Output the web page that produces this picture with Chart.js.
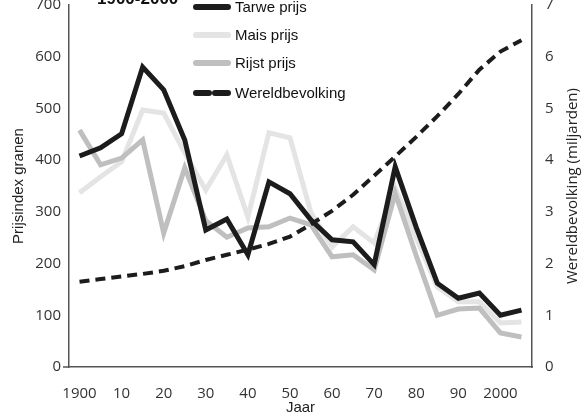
<!DOCTYPE html>
<html>
<head>
<meta charset="utf-8">
<script src="https://cdn.jsdelivr.net/npm/chart.js@4.4.1/dist/chart.umd.min.js"></script>
<style>
html,body{margin:0;padding:0;background:#fff;}
#wrap{width:582px;height:416px;position:relative;}
</style>
</head>
<body>
<div id="wrap"><canvas id="c" width="582" height="416"></canvas></div>
<script>
const YEARS = [1900,1905,1910,1915,1920,1925,1930,1935,1940,1945,1950,1955,1960,1965,1970,1975,1980,1985,1990,1995,2000,2005];
const TARWE = [408,424,451,580,536,439,265,286,217,358,335,284,246,242,198,387,270,162,133,143,100,110];
const MAIS  = [337,368,397,497,491,414,342,410,290,453,443,298,232,271,240,346,250,155,126,126,85,87];
const RIJST = [458,391,404,439,259,385,283,251,269,271,288,275,213,217,188,336,215,100,112,114,66,58];
const BEVOLKING = [1.65,1.70,1.75,1.80,1.86,1.95,2.07,2.17,2.27,2.38,2.52,2.76,3.02,3.33,3.70,4.07,4.45,4.85,5.28,5.75,6.10,6.32];
const XTICKS = [1900,1910,1920,1930,1940,1950,1960,1970,1980,1990,2000];
const XTICK_LABELS = ["1900","10","20","30","40","50","60","70","80","90","2000"];
const LEFT_TICKS = [0,100,200,300,400,500,600,700];
const RIGHT_TICKS = [0,1,2,3,4,5,6,7];
const LEGEND_LABELS = ["Tarwe prijs","Mais prijs","Rijst prijs","Wereldbevolking"];
const RIGHT_TITLE = "Wereldbevolking (miljarden)";

const pts = arr => YEARS.map((y,i)=>({x:y,y:arr[i]}));
const noPad = s => { s.paddingTop = 0; s.paddingBottom = 0; s.paddingLeft = 0; s.paddingRight = 0; };

const legendPlugin = {
  id:'customLegend',
  afterDraw(chart){
    const ctx = chart.ctx;
    const ca = chart.chartArea;
    ctx.save();
    // small stub where the x axis meets the left axis
    ctx.strokeStyle = '#555';
    ctx.lineWidth = 1.5;
    ctx.beginPath();
    ctx.moveTo(ca.left - 6, ca.bottom);
    ctx.lineTo(ca.left, ca.bottom);
    ctx.stroke();
    // partially cut title
    ctx.fillStyle = '#111';
    ctx.font = 'bold 17px "Liberation Sans", Arial, sans-serif';
    ctx.textBaseline = 'alphabetic';
    ctx.textAlign = 'left';
    ctx.fillText('1900-2000', 97, 4);
    const ys = [7,35,63,93];
    [0,1,2,3].forEach((di,k)=>{
      const ds = chart.data.datasets[di];
      const y = ys[k];
      ctx.beginPath();
      ctx.strokeStyle = ds.borderColor;
      ctx.lineWidth = 6;
      ctx.lineCap = 'round';
      ctx.setLineDash(ds.borderDash && ds.borderDash.length ? [13,6] : []);
      ctx.moveTo(196, y);
      ctx.lineTo(228, y);
      ctx.stroke();
      ctx.setLineDash([]);
      ctx.fillStyle = '#111';
      ctx.font = '15px "Liberation Sans", Arial, sans-serif';
      ctx.textBaseline = 'middle';
      ctx.fillText(ds.label, 235, y+1);
    });
    // right axis title, reading bottom-to-top
    ctx.translate(573, (ca.top + ca.bottom)/2);
    ctx.rotate(-Math.PI/2);
    ctx.textAlign = 'center';
    ctx.textBaseline = 'middle';
    ctx.fillStyle = '#222';
    ctx.font = '15px "Open Sans", sans-serif';
    ctx.fillText(RIGHT_TITLE, 0, 0);
    ctx.restore();
  }
};

new Chart(document.getElementById('c'), {
  type:'line',
  data:{
    datasets:[
      {label:LEGEND_LABELS[0], data:pts(TARWE), borderColor:'#1c1c1c', borderWidth:5, yAxisID:'y', order:1, borderJoinStyle:'miter'},
      {label:LEGEND_LABELS[1], data:pts(MAIS), borderColor:'#e4e4e4', borderWidth:5, yAxisID:'y', order:3},
      {label:LEGEND_LABELS[2], data:pts(RIJST), borderColor:'#bfbfbf', borderWidth:5, yAxisID:'y', order:2},
      {label:LEGEND_LABELS[3], data:pts(BEVOLKING), borderColor:'#1c1c1c', borderWidth:4, borderDash:[10,6], yAxisID:'y2', order:0}
    ]
  },
  options:{
    responsive:false,
    animation:false,
    layout:{autoPadding:false, padding:{top:5,left:0,right:0,bottom:0}},
    elements:{point:{radius:0}, line:{tension:0, fill:false}},
    plugins:{legend:{display:false}, tooltip:{enabled:false}, title:{display:false}},
    scales:{
      x:{
        type:'linear', min:1897.5, max:2007.5,
        grid:{display:false, drawTicks:false},
        border:{display:true, color:'#555', width:1.5},
        afterBuildTicks(s){ s.ticks = XTICKS.map(v=>({value:v})); },
        afterFit(s){ s.height = 49; noPad(s); },
        ticks:{padding:18, color:'#333', maxRotation:0, autoSkip:false,
          font:{family:'"Open Sans", sans-serif', size:15},
          callback:(v)=>{ const i = XTICKS.indexOf(v); return i>=0 ? XTICK_LABELS[i] : ''; }},
        title:{display:true, text:'Jaar', color:'#222', padding:{top:0,bottom:-1},
          font:{family:'"Liberation Sans", Arial, sans-serif', size:15}}
      },
      y:{
        position:'left', min:0, max:700,
        grid:{display:false, drawTicks:false},
        border:{display:true, color:'#555', width:1.5},
        afterBuildTicks(s){ s.ticks = LEFT_TICKS.map(v=>({value:v})); },
        afterFit(s){ s.width = 69; noPad(s); },
        ticks:{padding:8, color:'#333', font:{family:'"Open Sans", sans-serif', size:15}},
        title:{display:true, text:'Prijsindex granen', color:'#222', padding:{top:10,bottom:0},
          font:{family:'"Liberation Sans", Arial, sans-serif', size:15}}
      },
      y2:{
        position:'right', min:0, max:7,
        grid:{display:false, drawTicks:false},
        border:{display:true, color:'#555', width:1.5},
        afterBuildTicks(s){ s.ticks = RIGHT_TICKS.map(v=>({value:v})); },
        afterFit(s){ s.width = 50; noPad(s); },
        ticks:{padding:13, color:'#333', font:{family:'"Open Sans", sans-serif', size:15}},
        title:{display:false}
      }
    }
  },
  plugins:[legendPlugin]
});
</script>
</body>
</html>
